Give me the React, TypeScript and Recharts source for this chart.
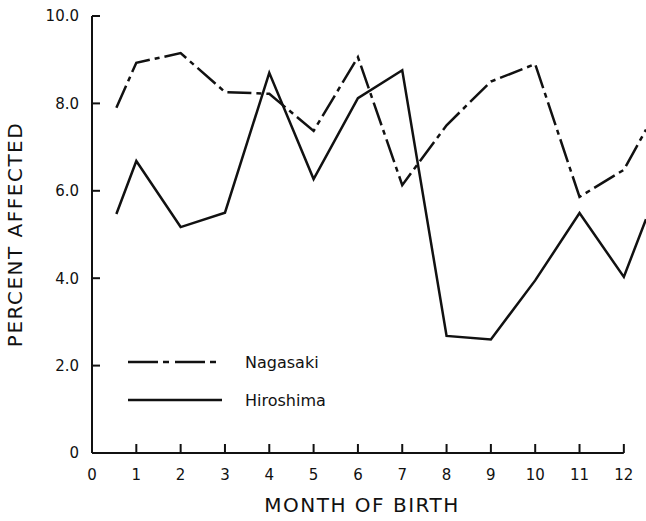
import React from 'react';
import { LineChart, Line, XAxis, YAxis, Legend, ReferenceLine } from 'recharts';

// month positions (first point sits just past 0, last runs off the edge)
const months = [0.55, 1, 2, 3, 4, 5, 6, 7, 8, 9, 10, 11, 12, 12.5];
const nagasaki = [7.9, 8.93, 9.15, 8.26, 8.22, 7.37, 9.06, 6.13, 7.5, 8.5, 8.9, 5.86, 6.48, 7.4];
const hiroshima = [5.47, 6.68, 5.17, 5.5, 8.7, 6.27, 8.12, 8.76, 2.68, 2.6, 3.95, 5.49, 4.03, 5.35];

const xTicks = [0, 1, 2, 3, 4, 5, 6, 7, 8, 9, 10, 11, 12];
const yTicks = [0, 2, 4, 6, 8, 10];

const data = months.map((m, i) => ({ month: m, nagasaki: nagasaki[i], hiroshima: hiroshima[i] }));

const FONT = '"DejaVu Sans", sans-serif';
const INK = '#111';
const DASH = '24 5 5 5';

const legendItems = [
  { name: 'Nagasaki', dash: '30 5 6 6' },
  { name: 'Hiroshima', dash: undefined },
];

const XTick = (props: any) => {
  const { x, y, payload } = props;
  const axisY = y - 16;
  return (
    <g>
      {payload.value !== 0 && (
        <line x1={x} y1={axisY} x2={x} y2={axisY - 9} stroke={INK} strokeWidth={2} />
      )}
      <text x={x} y={y} dy="0.71em" textAnchor="middle" fontSize={15} fontFamily={FONT} fill={INK}>
        {payload.value}
      </text>
    </g>
  );
};

const YTick = (props: any) => {
  const { x, y, payload } = props;
  const axisX = x + 13;
  return (
    <g>
      <line x1={axisX} y1={y} x2={axisX + 8} y2={y} stroke={INK} strokeWidth={2} />
      <text x={x} y={y} dy="0.36em" textAnchor="end" fontSize={15} fontFamily={FONT} fill={INK}>
        {payload.value === 0 ? '0' : payload.value.toFixed(1)}
      </text>
    </g>
  );
};

const renderLegend = () => (
  <div style={{ fontFamily: FONT, fontSize: 16, color: INK }}>
    {legendItems.map((it) => (
      <div key={it.name} style={{ display: 'flex', alignItems: 'center', height: 38 }}>
        <svg width={94} height={6} style={{ marginRight: 23 }}>
          <line x1={0} y1={3} x2={94} y2={3} stroke={INK} strokeWidth={2.5} strokeDasharray={it.dash} />
        </svg>
        <span>{it.name}</span>
      </div>
    ))}
  </div>
);

export default function App() {
  return (
    <div style={{ position: 'absolute', left: 0, top: 0, background: '#fff' }}>
      <LineChart width={646} height={521} data={data} margin={{ top: 16, right: 0, bottom: 0, left: 0 }}>
        <XAxis
          dataKey="month"
          type="number"
          domain={[0, 12.5]}
          ticks={xTicks}
          allowDataOverflow
          axisLine={false}
          tickLine={false}
          tickSize={0}
          tickMargin={16}
          height={68}
          tick={<XTick />}
          interval={0}
          label={{
            value: 'MONTH OF BIRTH',
            position: 'insideBottom',
            offset: 9,
            dx: -7,
            style: { fontFamily: FONT, fontSize: 20, letterSpacing: 1.5, fill: INK },
          }}
        />
        <YAxis
          type="number"
          domain={[0, 10]}
          ticks={yTicks}
          width={92}
          axisLine={{ stroke: INK, strokeWidth: 2 }}
          tickLine={false}
          tickSize={0}
          tickMargin={13}
          tick={<YTick />}
          interval={0}
          label={{
            value: 'PERCENT AFFECTED',
            angle: -90,
            position: 'insideLeft',
            offset: 15,
            style: { fontFamily: FONT, fontSize: 20, letterSpacing: 1.5, fill: INK, textAnchor: 'middle' },
          }}
        />
        <ReferenceLine
          segment={[{ x: 0, y: 0 }, { x: 12, y: 0 }]}
          stroke={INK}
          strokeWidth={2}
          ifOverflow="visible"
        />
        <Legend
          content={renderLegend}
          layout="vertical"
          align="center"
          verticalAlign="middle"
          wrapperStyle={{ left: 128, top: 343, width: 220 }}
        />
        <Line
          dataKey="nagasaki"
          name="Nagasaki"
          type="linear"
          stroke={INK}
          strokeWidth={2.5}
          strokeDasharray={DASH}
          dot={false}
          isAnimationActive={false}
        />
        <Line
          dataKey="hiroshima"
          name="Hiroshima"
          type="linear"
          stroke={INK}
          strokeWidth={2.5}
          dot={false}
          isAnimationActive={false}
        />
      </LineChart>
    </div>
  );
}
